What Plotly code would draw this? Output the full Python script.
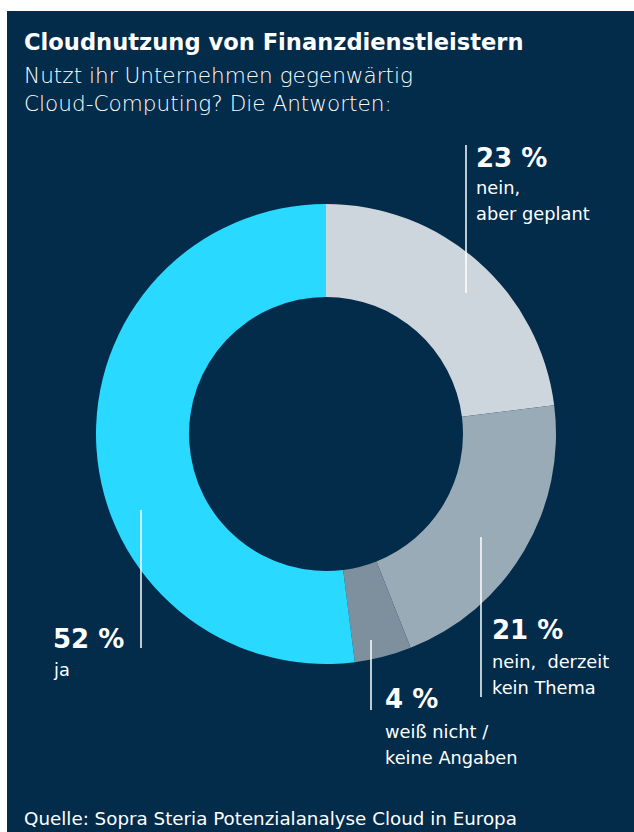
import plotly.graph_objects as go

# Data
categories = ["nein, aber geplant", "nein, derzeit kein Thema", "weiß nicht / keine Angaben", "ja"]
values = [23, 21, 4, 52]
pct_labels = ["23 %", "21 %", "4 %", "52 %"]
desc_lines = [["nein,", "aber geplant"], ["nein,  derzeit", "kein Thema"], ["weiß nicht /", "keine Angaben"], ["ja"]]
colors = ["#CDD5DD", "#9AABB8", "#7E909E", "#29D9FF"]

title = "Cloudnutzung von Finanzdienstleistern"
subtitle = ["Nutzt ihr Unternehmen gegenwärtig", "Cloud-Computing? Die Antworten:"]
source = "Quelle: Sopra Steria Potenzialanalyse Cloud in Europa"

W, H = 634, 832
BG = "#032B4A"
FONT = "DejaVu Sans"

cx, cy, R, r_in = 326, 434, 230, 137

fig = go.Figure()
fig.add_trace(go.Pie(
    labels=categories, values=values, sort=False, direction="clockwise", rotation=0,
    hole=r_in / R, marker=dict(colors=colors, line=dict(width=0)),
    textinfo="none", hoverinfo="label+percent", showlegend=False,
    domain=dict(x=[(cx - R) / W, (cx + R) / W], y=[1 - (cy + R) / H, 1 - (cy - R) / H]),
))

shapes = [dict(type="rect", xref="x", yref="y", x0=7, x1=634, y0=11, y1=H,
               fillcolor=BG, line=dict(width=0), layer="below")]

# label placement (x of line, line y0, y1, text x, pct y, desc y's)
placements = [
    (466, 145, 293, 474, 158, [187, 213]),
    (481, 537, 697, 490, 630, [661, 687]),
    (371, 640, 710, 383, 699, [731, 757]),
    (141, 510, 648, 51, 639, [669]),
]

annotations = []
for i, (lx, ly0, ly1, tx, py, dys) in enumerate(placements):
    shapes.append(dict(type="line", xref="x", yref="y", x0=lx, x1=lx, y0=ly0, y1=ly1,
                       line=dict(color="white", width=1.5), layer="above"))
    annotations.append(dict(x=tx, y=py, xref="x", yref="y", text="<b>" + pct_labels[i] + "</b>",
                            showarrow=False, xanchor="left", yanchor="middle",
                            font=dict(family=FONT, size=26, color="white")))
    for line, dy in zip(desc_lines[i], dys):
        annotations.append(dict(x=tx, y=dy, xref="x", yref="y", text=line,
                                showarrow=False, xanchor="left", yanchor="middle",
                                font=dict(family=FONT, size=17.8, color="white")))

annotations.append(dict(x=22, y=42, xref="x", yref="y", text="<b>" + title + "</b>",
                        showarrow=False, xanchor="left", yanchor="middle",
                        font=dict(family=FONT, size=22.6, color="white")))
for line, yy in zip(subtitle, [75, 103]):
    annotations.append(dict(x=22, y=yy, xref="x", yref="y", text=line,
                            showarrow=False, xanchor="left", yanchor="middle",
                            font=dict(family=FONT, size=21.6, color="white", weight=200)))
annotations.append(dict(x=22, y=818, xref="x", yref="y", text=source,
                        showarrow=False, xanchor="left", yanchor="middle",
                        font=dict(family=FONT, size=18.3, color="white")))

fig.update_layout(
    width=W, height=H, margin=dict(l=0, r=0, t=0, b=0),
    paper_bgcolor="white", plot_bgcolor="rgba(0,0,0,0)",
    xaxis=dict(range=[0, W], visible=False, fixedrange=True),
    yaxis=dict(range=[H, 0], visible=False, fixedrange=True),
    shapes=shapes, annotations=annotations,
)

fig.write_html("out.html")
